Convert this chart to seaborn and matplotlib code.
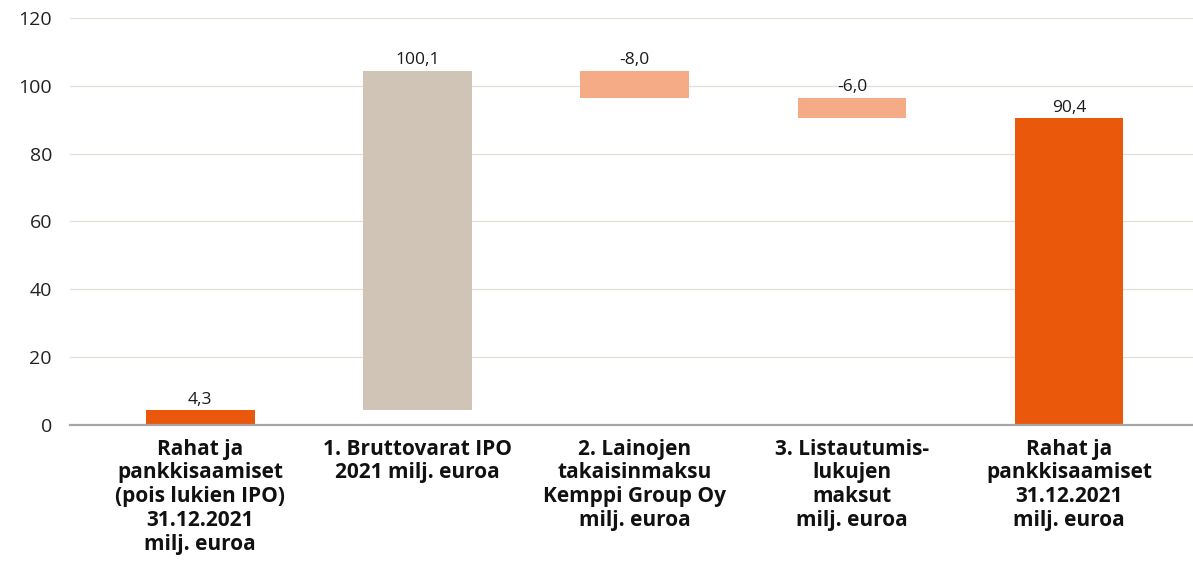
import numpy as np
import matplotlib
matplotlib.use("Agg")
import matplotlib.pyplot as plt
import seaborn as sns

# chart data
categories = [
    "Rahat ja\npankkisaamiset\n(pois lukien IPO)\n31.12.2021\nmilj. euroa",
    "1. Bruttovarat IPO\n2021 milj. euroa",
    "2. Lainojen\ntakaisinmaksu\nKemppi Group Oy\nmilj. euroa",
    "3. Listautumis-\nlukujen\nmaksut\nmilj. euroa",
    "Rahat ja\npankkisaamiset\n31.12.2021\nmilj. euroa",
]
values = [4.3, 100.1, -8.0, -6.0, 90.4]
is_total = [True, False, False, False, True]
bar_colors = ["#EA580C", "#CFC4B6", "#F5AB85", "#F5AB85", "#EA580C"]
y_ticks = [0, 20, 40, 60, 80, 100, 120]

# waterfall bottoms / heights
bottoms = []
heights = []
running = 0.0
for v, tot in zip(values, is_total):
    if tot:
        bottoms.append(0.0)
        heights.append(v)
        running = v
    else:
        new = running + v
        bottoms.append(min(running, new))
        heights.append(abs(v))
        running = new
tops = [b + h for b, h in zip(bottoms, heights)]

sns.set_style("white")
plt.rcParams["font.family"] = ["Open Sans", "DejaVu Sans"]

fig = plt.figure(figsize=(11.93, 5.65), dpi=100)
ax = fig.add_axes([0.0587, 0.248, 0.9413, 0.72])

sns.barplot(x=categories, y=heights, hue=categories, palette=bar_colors,
            legend=False, width=0.5, saturation=1, ax=ax, zorder=2)

# move each bar to its waterfall base
for patch, b in zip(ax.patches, bottoms):
    patch.set_y(b)
    patch.set_linewidth(0)

for i, (v, t) in enumerate(zip(values, tops)):
    ax.text(i, t + 0.8, f"{v:.1f}".replace(".", ","), ha="center",
            va="bottom", fontsize=12.5, color="#1a1a1a")

ax.set_ylim(0, 120)
ax.set_xlim(-0.6, 4.57)
ax.set_yticks(y_ticks)
ax.yaxis.grid(True, color="#E3DFD7", linewidth=0.9, zorder=0)
ax.set_axisbelow(True)

for side in ["top", "right", "left"]:
    ax.spines[side].set_visible(False)
ax.spines["bottom"].set_color("#A6A6A6")
ax.spines["bottom"].set_linewidth(1.6)
ax.spines["bottom"].set_zorder(3)

ax.tick_params(axis="y", length=0, pad=13, labelsize=14, labelcolor="#222222")
ax.tick_params(axis="x", length=0, pad=10)
for lab in ax.get_xticklabels():
    lab.set_fontsize(15)
    lab.set_fontweight("bold")
    lab.set_color("#111111")
    lab.set_linespacing(1.17)

fig.savefig("out.png", dpi=100)
